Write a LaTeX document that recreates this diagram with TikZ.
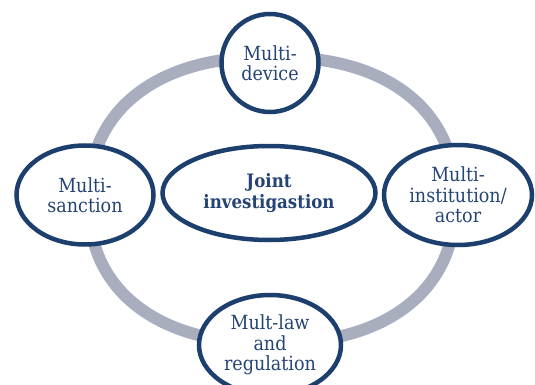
\documentclass[tikz,border=0pt]{standalone}
\usepackage{fontspec}
\setmainfont{DejaVu Serif Condensed}[BoldFont={DejaVu Serif Condensed Bold}]
\usetikzlibrary{shapes.geometric}
\definecolor{navy}{RGB}{29,63,110}
\definecolor{txt}{RGB}{36,68,116}
\definecolor{ringgrey}{RGB}{169,174,190}
\tikzset{
  bub/.style={ellipse, draw=navy, line width=4.5pt, fill=white, inner sep=0pt,
    align=center, text=txt, font=\fontsize{19.5}{20.5}\selectfont},
}
\begin{document}
\begin{tikzpicture}[x=1pt,y=-1pt]
\useasboundingbox (0,0) rectangle (535,385);
\clip (0,0) rectangle (535,385);
\fill[white] (0,0) rectangle (535,385);
\draw[ringgrey, line width=12pt] plot[smooth cycle, domain=1:359, samples=180]
  ({272+183*sign(cos(\x))*abs(cos(\x))^(0.87)}, {200+143*sign(sin(\x))*abs(sin(\x))^(0.87)});
\node[bub, minimum width=97pt, minimum height=98pt] (dev) at (270,63) {Multi-\\device};
\node[bub, minimum width=137pt, minimum height=99pt] (sanc) at (85,195) {Multi-\\sanction};
\node[bub, minimum width=213pt, minimum height=94pt, font=\fontsize{18.5}{20.5}\selectfont\bfseries] (joint) at (269,193) {Joint\\investigastion};
\node[bub, minimum width=148pt, minimum height=100pt] (inst) at (458,195) {Multi-\\institution/\\actor};
\node[bub, minimum width=142pt, minimum height=100pt] (law) at (270,345) {Mult-law\\and\\regulation};
\end{tikzpicture}
\end{document}
